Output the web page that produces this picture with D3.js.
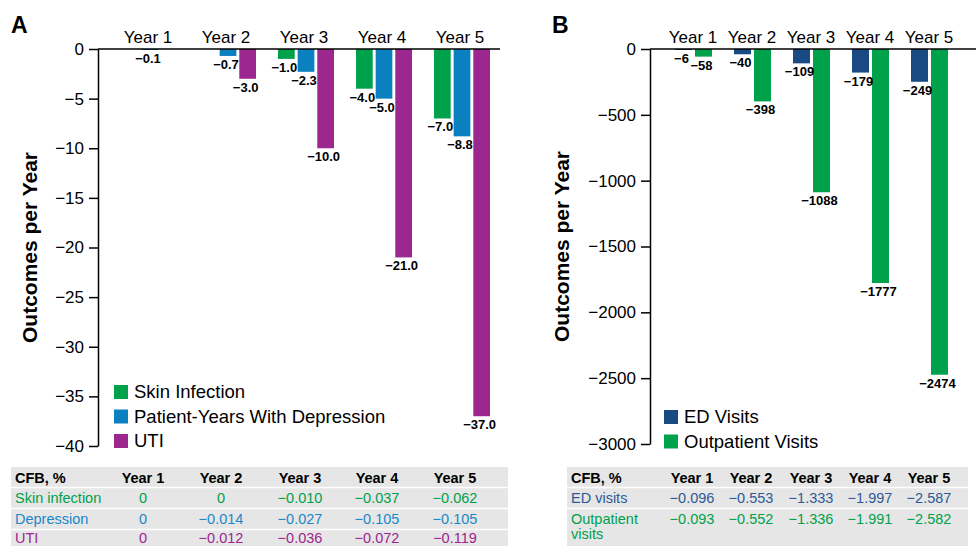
<!DOCTYPE html>
<html>
<head>
<meta charset="utf-8">
<script src="https://cdn.jsdelivr.net/npm/d3@7"></script>
<style>
  body { margin: 0; background: #fff; }
  svg { font-family: "Liberation Sans", Arial, sans-serif; }
  .val { font-family: "Liberation Sans Narrow", "Arial Narrow", "Liberation Sans", sans-serif; font-weight: bold; font-size: 13px; }
</style>
</head>
<body>
<div id="chart"></div>
<script>
    const years = ["Year 1", "Year 2", "Year 3", "Year 4", "Year 5"];
    // panel A
    const keysA = ["Skin Infection", "Patient-Years With Depression", "UTI"];
    const skinInfection = [0, 0, -1.0, -4.0, -7.0];
    const depression = [-0.1, -0.7, -2.3, -5.0, -8.8];
    const uti = [0, -3.0, -10.0, -21.0, -37.0];
    const ticksA = [0, -5, -10, -15, -20, -25, -30, -35, -40];
    const tableHeadA = ["Year 1", "Year 2", "Year 3", "Year 4", "Year 5"];
    const tableRowsA = ["Skin infection", "Depression", "UTI"];
    const cfbSkin = ["0", "0", "\u22120.010", "\u22120.037", "\u22120.062"];
    const cfbDepression = ["0", "\u22120.014", "\u22120.027", "\u22120.105", "\u22120.105"];
    const cfbUti = ["0", "\u22120.012", "\u22120.036", "\u22120.072", "\u22120.119"];
    // panel B
    const keysB = ["ED Visits", "Outpatient Visits"];
    const edVisits = [-6, -40, -109, -179, -249];
    const outpatientVisits = [-58, -398, -1088, -1777, -2474];
    const ticksB = [0, -500, -1000, -1500, -2000, -2500, -3000];
    const tableRowsB = ["ED visits", "Outpatient visits"];
    const cfbEd = ["\u22120.096", "\u22120.553", "\u22121.333", "\u22121.997", "\u22122.587"];
    const cfbOutpatient = ["\u22120.093", "\u22120.552", "\u22121.336", "\u22121.991", "\u22122.582"];

    const width = 976, height = 546;
    const svg = d3.select("#chart")
        .append("svg")
        .attr("width", width)
        .attr("height", height);

    const fmtMinus = s => String(s).replace("-", "\u2212");

    function panel(opt) {
        const g = svg.append("g");
        const x = d3.scaleBand()
            .domain(years)
            .range(opt.xRange);
        const xs = d3.scaleBand()
            .domain(opt.keys)
            .range([-opt.groupW / 2, opt.groupW / 2])
            .paddingInner(0.15);
        const y = d3.scaleLinear()
            .domain(opt.yDomain)
            .range(opt.yRange);
        const color = d3.scaleOrdinal()
            .domain(opt.keys)
            .range(opt.colors);

        g.append("text")
            .text(opt.letter)
            .attr("x", opt.letterX)
            .attr("y", 33)
            .attr("font-weight", 900)
            .attr("font-size", 23);

        // year labels on top
        g.append("g")
            .attr("font-size", 17)
            .attr("text-anchor", "middle")
            .selectAll("text")
            .data(years)
            .join("text")
            .attr("x", d => x(d) + x.bandwidth() / 2)
            .attr("y", 43)
            .text(d => d);

        // bars
        const rows = [];
        opt.keys.forEach((k, i) => {
            opt.series[i].forEach((v, j) => rows.push({ key: k, year: years[j], value: v }));
        });
        const bars = rows.filter(d => d.value !== 0);
        g.append("g")
            .selectAll("rect")
            .data(bars)
            .join("rect")
            .attr("x", d => x(d.year) + x.bandwidth() / 2 + opt.shift + xs(d.key))
            .attr("width", xs.bandwidth())
            .attr("y", y(0))
            .attr("height", d => Math.max(1, y(d.value) - y(0)))
            .attr("fill", d => color(d.key));
        g.append("g")
            .attr("text-anchor", "middle")
            .selectAll("text")
            .data(bars)
            .join("text")
            .attr("class", "val")
            .attr("x", d => x(d.year) + x.bandwidth() / 2 + opt.shift + xs(d.key) + xs.bandwidth() / 2 - 2)
            .attr("y", d => Math.max(y(d.value), y(0) + 1) + 13)
            .text(d => fmtMinus(opt.fmt(d.value)));

        // top zero line
        g.append("line")
            .attr("x1", opt.axisX)
            .attr("x2", opt.lineEnd)
            .attr("y1", y(0))
            .attr("y2", y(0))
            .attr("stroke", "#000")
            .attr("stroke-width", 1.5);

        // y axis
        g.append("g")
            .attr("transform", `translate(${opt.axisX},0)`)
            .call(d3.axisLeft(y).tickValues(opt.ticks).tickSize(9).tickSizeOuter(0).tickPadding(5)
                .tickFormat(d => fmtMinus(d)))
            .call(a => {
                a.selectAll("path, line").attr("stroke", "#000").attr("stroke-width", 1.5);
                a.selectAll("text").attr("font-size", 17).attr("font-family", "Liberation Sans, Arial, sans-serif").attr("fill", "#000");
            });

        const midY = (opt.yRange[0] + opt.yRange[1]) / 2;
        g.append("text")
            .text("Outcomes per Year")
            .attr("font-weight", "bold")
            .attr("font-size", 21)
            .attr("text-anchor", "middle")
            .attr("transform", `translate(${opt.titleX},${midY}) rotate(-90)`);

        // legend
        const leg = g.append("g")
            .attr("transform", `translate(${opt.legX}, ${opt.legY})`);
        leg.selectAll("rect")
            .data(opt.keys)
            .join("rect")
            .attr("x", 0)
            .attr("y", (d, i) => i * 24.5 - 7)
            .attr("width", 14)
            .attr("height", 14)
            .attr("fill", d => color(d));
        leg.selectAll("text")
            .data(opt.keys)
            .join("text")
            .attr("x", 20)
            .attr("y", (d, i) => i * 24.5)
            .attr("dy", "0.35em")
            .attr("font-size", 18.5)
            .text(d => d);

        // table
        const t = g.append("g");
        t.append("rect")
            .attr("x", opt.tableX[0])
            .attr("y", 467)
            .attr("width", opt.tableX[1] - opt.tableX[0])
            .attr("height", height - 467)
            .attr("fill", "#e6e6e6");
        opt.sepY.forEach(sy => {
            t.append("line")
                .attr("x1", opt.tableX[0])
                .attr("x2", opt.tableX[1])
                .attr("y1", sy)
                .attr("y2", sy)
                .attr("stroke", "#fff")
                .attr("stroke-width", 1.5);
        });
        t.append("text")
            .text("CFB, %")
            .attr("x", opt.tableX[0] + 4)
            .attr("y", 483)
            .attr("font-weight", "bold")
            .attr("font-size", 14.5);
        t.append("g")
            .attr("text-anchor", "middle")
            .attr("font-weight", "bold")
            .attr("font-size", 14.5)
            .selectAll("text")
            .data(tableHeadA)
            .join("text")
            .attr("x", (d, i) => opt.colX[i])
            .attr("y", 483)
            .text(d => d);
        opt.tableRows.forEach((name, r) => {
            const c = opt.tableColors[r];
            const lines = opt.rowLines[r];
            const ry = opt.rowY[r];
            const lbl = t.append("text")
                .attr("x", opt.tableX[0] + 4)
                .attr("y", ry)
                .attr("font-size", 14.5)
                .attr("fill", c);
            lines.forEach((ln, li) => {
                lbl.append("tspan")
                    .attr("x", opt.tableX[0] + 4)
                    .attr("dy", li === 0 ? 0 : 15)
                    .text(ln);
            });
            t.append("g")
                .attr("text-anchor", "middle")
                .attr("font-size", 14.5)
                .attr("fill", c)
                .selectAll("text")
                .data(opt.tableVals[r])
                .join("text")
                .attr("x", (d, i) => opt.colX[i])
                .attr("y", ry)
                .text(d => d);
        });
    }

    panel({
        letter: "A", letterX: 11,
        keys: keysA,
        series: [skinInfection, depression, uti],
        colors: ["#00a14b", "#0a80c0", "#9c278f"],
        xRange: [109, 499], groupW: 56, shift: 2,
        yDomain: [-40, 0], yRange: [446, 49], ticks: ticksA,
        axisX: 98, lineEnd: 500, titleX: 37,
        fmt: d3.format(".1f"),
        legX: 114, legY: 392,
        tableX: [11, 508],
        sepY: [487.5, 508.5, 529.5],
        colX: [143, 221, 300, 377, 455],
        tableRows: tableRowsA,
        rowLines: [["Skin infection"], ["Depression"], ["UTI"]],
        rowY: [503, 524, 543],
        tableColors: ["#00a14b", "#1a88c8", "#9c278f"],
        tableVals: [cfbSkin, cfbDepression, cfbUti]
    });

    panel({
        letter: "B", letterX: 552,
        keys: keysB,
        series: [edVisits, outpatientVisits],
        colors: ["#1a4a82", "#00a14b"],
        xRange: [663.5, 958.5], groupW: 37, shift: 0.5,
        yDomain: [-3000, 0], yRange: [444, 49], ticks: ticksB,
        axisX: 650, lineEnd: 976, titleX: 569,
        fmt: d3.format("d"),
        legX: 664, legY: 417,
        tableX: [567, 968],
        sepY: [487.5, 508.5],
        colX: [692, 751, 811, 870, 929],
        tableRows: tableRowsB,
        rowLines: [["ED visits"], ["Outpatient", "visits"]],
        rowY: [503, 524],
        tableColors: ["#2d5a96", "#00a14b"],
        tableVals: [cfbEd, cfbOutpatient]
    });
</script>
</body>
</html>
